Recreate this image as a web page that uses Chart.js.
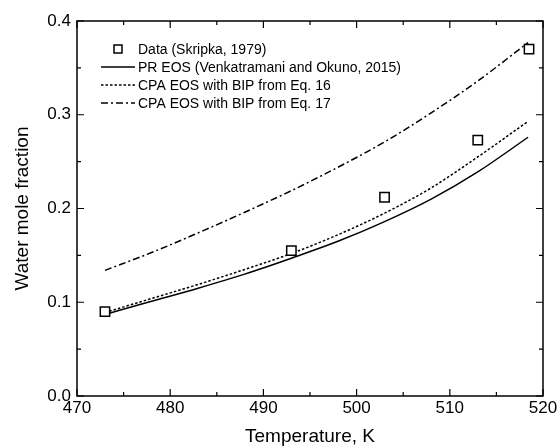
<!DOCTYPE html>
<html>
<head>
<meta charset="utf-8">
<script src="https://cdn.jsdelivr.net/npm/chart.js@4"></script>
<style>
  html, body { margin: 0; padding: 0; background: #fff; }
  #wrap { width: 560px; height: 446px; }
</style>
</head>
<body>
<div id="wrap"><canvas id="solChart"></canvas></div>
<script>
// model curves, temperature in K
const temps = [473, 478, 483, 488, 493, 498, 503, 508, 513, 518.4];
const prEos = [0.087, 0.101, 0.115, 0.130, 0.147, 0.165, 0.186, 0.210, 0.239, 0.276];
const cpa16 = [0.089, 0.104, 0.119, 0.135, 0.152, 0.172, 0.195, 0.222, 0.255, 0.293];
const cpa17 = [0.134, 0.153, 0.174, 0.196, 0.219, 0.244, 0.271, 0.302, 0.336, 0.377];

// measured points
const dataT = [473, 493, 503, 513, 518.5];
const dataX = [0.090, 0.155, 0.212, 0.273, 0.370];

const xTicks = [470, 480, 490, 500, 510, 520];
const yTicks = [0.0, 0.1, 0.2, 0.3, 0.4];

const FONT = "'Liberation Sans', Arial, sans-serif";

function toPoints(xs, ys) {
    return xs.map((x, i) => ({ x: x, y: ys[i] }));
}

function curve(label, ys, dash) {
    return {
        label: label,
        data: toPoints(temps, ys),
        showLine: true,
        borderColor: '#000',
        borderWidth: 1.5,
        borderDash: dash,
        pointRadius: 0,
        cubicInterpolationMode: 'monotone',
        order: 2
    };
}

// inward ticks on all four sides + frame
const framePlugin = {
    id: 'frame',
    afterDraw(chart) {
        const ctx = chart.ctx;
        const a = chart.chartArea;
        const xs = chart.scales.x, ys = chart.scales.y;
        ctx.save();
        ctx.strokeStyle = '#000';
        ctx.lineWidth = 1.5;
        ctx.strokeRect(a.left, a.top, a.right - a.left, a.bottom - a.top);
        ctx.lineWidth = 1.2;
        ctx.beginPath();
        for (let v = xTicks[0]; v <= xTicks[xTicks.length - 1]; v += 5) {
            const px = xs.getPixelForValue(v);
            const len = (v % 10 === 0) ? 7 : 4;
            ctx.moveTo(px, a.bottom); ctx.lineTo(px, a.bottom - len);
            ctx.moveTo(px, a.top); ctx.lineTo(px, a.top + len);
        }
        for (let i = 0; i <= 8; i++) {
            const py = ys.getPixelForValue(i * 0.05);
            const len = (i % 2 === 0) ? 7 : 4;
            ctx.moveTo(a.left, py); ctx.lineTo(a.left + len, py);
            ctx.moveTo(a.right, py); ctx.lineTo(a.right - len, py);
        }
        ctx.stroke();
        ctx.restore();
    }
};

// legend drawn inside the plot, top left
const boxLegend = {
    id: 'boxLegend',
    afterDraw(chart) {
        const ctx = chart.ctx;
        const a = chart.chartArea;
        const x0 = a.left + 24, x1 = a.left + 58, tx = a.left + 61;
        let y = a.top + 28;
        ctx.save();
        ctx.font = '14px ' + FONT;
        ctx.fillStyle = '#000';
        ctx.textBaseline = 'middle';
        chart.data.datasets.forEach(ds => {
            ctx.strokeStyle = '#000';
            if (ds.showLine) {
                ctx.lineWidth = 1.5;
                ctx.setLineDash(ds.borderDash || []);
                ctx.beginPath();
                ctx.moveTo(x0, y); ctx.lineTo(x1, y);
                ctx.stroke();
                ctx.setLineDash([]);
            } else {
                ctx.lineWidth = 1.5;
                ctx.fillStyle = '#fff';
                ctx.fillRect((x0 + x1) / 2 - 4, y - 4, 8, 8);
                ctx.strokeRect((x0 + x1) / 2 - 4, y - 4, 8, 8);
                ctx.fillStyle = '#000';
            }
            ctx.fillText(ds.label, tx, y + 1);
            y += 18;
        });
        ctx.restore();
    }
};

new Chart(document.getElementById('solChart'), {
    type: 'scatter',
    data: {
        datasets: [
            {
                label: 'Data (Skripka, 1979)',
                data: toPoints(dataT, dataX),
                pointStyle: 'rect',
                pointRadius: 6.6,
                pointBorderWidth: 1.5,
                pointBorderColor: '#000',
                pointBackgroundColor: '#fff',
                order: 1
            },
            curve('PR EOS (Venkatramani and Okuno, 2015)', prEos, []),
            curve('CPA EOS with BIP from Eq. 16', cpa16, [2.5, 2]),
            curve('CPA EOS with BIP from Eq. 17', cpa17, [7, 3, 2, 3])
        ]
    },
    options: {
        responsive: true,
        maintainAspectRatio: false,
        animation: false,
        layout: { padding: { top: 21, right: 17, left: 0, bottom: 0 } },
        plugins: {
            legend: { display: false },
            tooltip: { enabled: false }
        },
        scales: {
            x: {
                type: 'linear',
                min: 470,
                max: 520,
                afterBuildTicks: s => { s.ticks = xTicks.map(v => ({ value: v })); },
                afterFit: s => { s.height = 50; },
                grid: { display: false, drawTicks: false },
                border: { display: false },
                ticks: {
                    color: '#000',
                    font: { family: FONT, size: 17 },
                    padding: 2,
                    maxRotation: 0
                },
                title: {
                    display: true,
                    text: 'Temperature, K',
                    color: '#000',
                    font: { family: FONT, size: 19, lineHeight: 1 },
                    padding: { top: 0, bottom: 0 }
                }
            },
            y: {
                type: 'linear',
                min: 0,
                max: 0.4,
                afterBuildTicks: s => { s.ticks = yTicks.map(v => ({ value: v })); },
                afterFit: s => { s.width = 77; },
                grid: { display: false, drawTicks: false },
                border: { display: false },
                ticks: {
                    color: '#000',
                    font: { family: FONT, size: 17 },
                    padding: 6,
                    callback: v => v.toFixed(1)
                },
                title: {
                    display: true,
                    text: 'Water mole fraction',
                    color: '#000',
                    font: { family: FONT, size: 19, lineHeight: 1 },
                    padding: { top: 13, bottom: 0 }
                }
            }
        }
    },
    plugins: [framePlugin, boxLegend]
});
</script>
</body>
</html>
